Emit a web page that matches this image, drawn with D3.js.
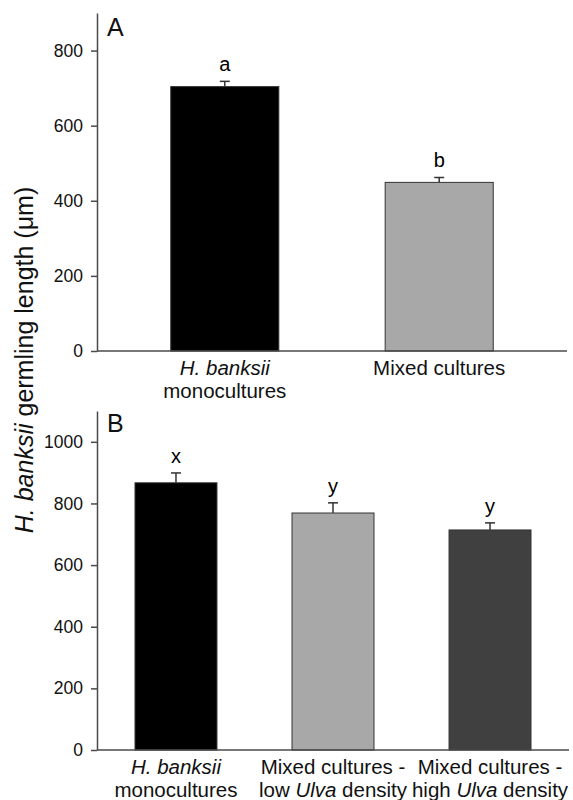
<!DOCTYPE html>
<html>
<head>
<meta charset="utf-8">
<script src="https://cdn.jsdelivr.net/npm/d3@7"></script>
<style>
  body { margin: 0; background: #fff; }
  svg { display: block; font-family: "Liberation Sans", Arial, sans-serif; }
</style>
</head>
<body>
<svg id="chart" width="573" height="800"></svg>
<script>
// Panel A - germling length, two treatments
const aCategories = ["*H. banksii*|monocultures", "Mixed cultures"];
const aMeans = [704, 449];
const aErrors = [14, 13];
const aLetters = ["a", "b"];
const aColors = ["#000000", "#a8a8a8"];
const aTicks = [0, 200, 400, 600, 800];

// Panel B - germling length by Ulva density
const bCategories = ["*H. banksii*|monocultures", "Mixed cultures -|low *Ulva* density", "Mixed cultures -|high *Ulva* density"];
const bMeans = [867, 769, 714];
const bErrors = [32, 33, 23];
const bLetters = ["x", "y", "y"];
const bColors = ["#000000", "#a8a8a8", "#404040"];
const bTicks = [0, 200, 400, 600, 800, 1000];

const svg = d3.select("#chart");
const axisColor = "#4a4a4a";

// writes "*italic* plain" segments into a text element
function richText(sel, str) {
  str.split("*").forEach((part, i) => {
    if (!part) return;
    sel.append("tspan").attr("font-style", i % 2 ? "italic" : "normal").text(part);
  });
}

function drawPanel(opts) {
  const { cats, means, errs, letters, colors, ticks, yMax, top, bottom, left, right,
          padInner, padOuter, panelLabel, labelY } = opts;

  const x = d3.scaleBand().domain(d3.range(cats.length)).range([left, right])
    .paddingInner(padInner).paddingOuter(padOuter);
  const y = d3.scaleLinear().domain([0, yMax]).range([bottom, top]);

  const g = svg.append("g");

  // bars
  g.selectAll("rect.bar").data(means).join("rect")
    .attr("class", "bar")
    .attr("x", (d, i) => x(i))
    .attr("y", d => y(d))
    .attr("width", x.bandwidth())
    .attr("height", d => y(0) - y(d))
    .attr("fill", (d, i) => colors[i])
    .attr("stroke", "#333")
    .attr("stroke-width", 1);

  // upper error bars
  const eb = g.selectAll("g.err").data(means).join("g").attr("class", "err");
  eb.append("line")
    .attr("x1", (d, i) => x(i) + x.bandwidth() / 2)
    .attr("x2", (d, i) => x(i) + x.bandwidth() / 2)
    .attr("y1", d => y(d))
    .attr("y2", (d, i) => y(d + errs[i]))
    .attr("stroke", "#333").attr("stroke-width", 1.5);
  eb.append("line")
    .attr("x1", (d, i) => x(i) + x.bandwidth() / 2 - 5)
    .attr("x2", (d, i) => x(i) + x.bandwidth() / 2 + 5)
    .attr("y1", (d, i) => y(d + errs[i]))
    .attr("y2", (d, i) => y(d + errs[i]))
    .attr("stroke", "#333").attr("stroke-width", 1.5);

  // significance letters
  g.selectAll("text.sig").data(means).join("text")
    .attr("class", "sig")
    .attr("x", (d, i) => x(i) + x.bandwidth() / 2)
    .attr("y", (d, i) => y(d + errs[i]) - 10)
    .attr("text-anchor", "middle")
    .attr("font-size", 20)
    .text((d, i) => letters[i]);

  // y axis
  const yAxis = g.append("g")
    .attr("transform", `translate(${left},0)`)
    .call(d3.axisLeft(y).tickValues(ticks).tickFormat(d3.format("d"))
      .tickSize(6).tickSizeOuter(0).tickPadding(8));
  yAxis.selectAll("path, line").attr("stroke", axisColor).attr("stroke-width", 1.5);
  yAxis.selectAll("text").attr("font-size", 17.5).attr("fill", "#111")
    .attr("font-family", "'Liberation Sans', Arial, sans-serif");

  // x axis baseline
  g.append("line")
    .attr("x1", left).attr("x2", right)
    .attr("y1", y(0)).attr("y2", y(0))
    .attr("stroke", axisColor).attr("stroke-width", 1.5);

  // category labels
  cats.forEach((c, i) => {
    c.split("|").forEach((line, j) => {
      const t = g.append("text")
        .attr("x", x(i) + x.bandwidth() / 2)
        .attr("y", bottom + 24 + j * 22.5)
        .attr("text-anchor", "middle")
        .attr("font-size", 20.5)
        .attr("fill", "#111");
      richText(t, line);
    });
  });

  // panel letter
  g.append("text")
    .attr("x", left + 10).attr("y", labelY)
    .attr("font-size", 25)
    .attr("fill", "#111")
    .text(panelLabel);
}

drawPanel({
  cats: aCategories, means: aMeans, errs: aErrors, letters: aLetters, colors: aColors,
  ticks: aTicks, yMax: 900, top: 13, bottom: 351, left: 97, right: 567,
  padInner: 0.496, padOuter: 0.344, panelLabel: "A", labelY: 36
});

drawPanel({
  cats: bCategories, means: bMeans, errs: bErrors, letters: bLetters, colors: bColors,
  ticks: bTicks, yMax: 1100, top: 411, bottom: 750, left: 97, right: 569,
  padInner: 0.478, padOuter: 0.242, panelLabel: "B", labelY: 432
});

// shared y-axis title
const title = svg.append("text")
  .attr("transform", "translate(33,360) rotate(-90)")
  .attr("text-anchor", "middle")
  .attr("font-size", 25)
  .attr("fill", "#111");
richText(title, "*H. banksii* germling length (μm)");
</script>
</body>
</html>
